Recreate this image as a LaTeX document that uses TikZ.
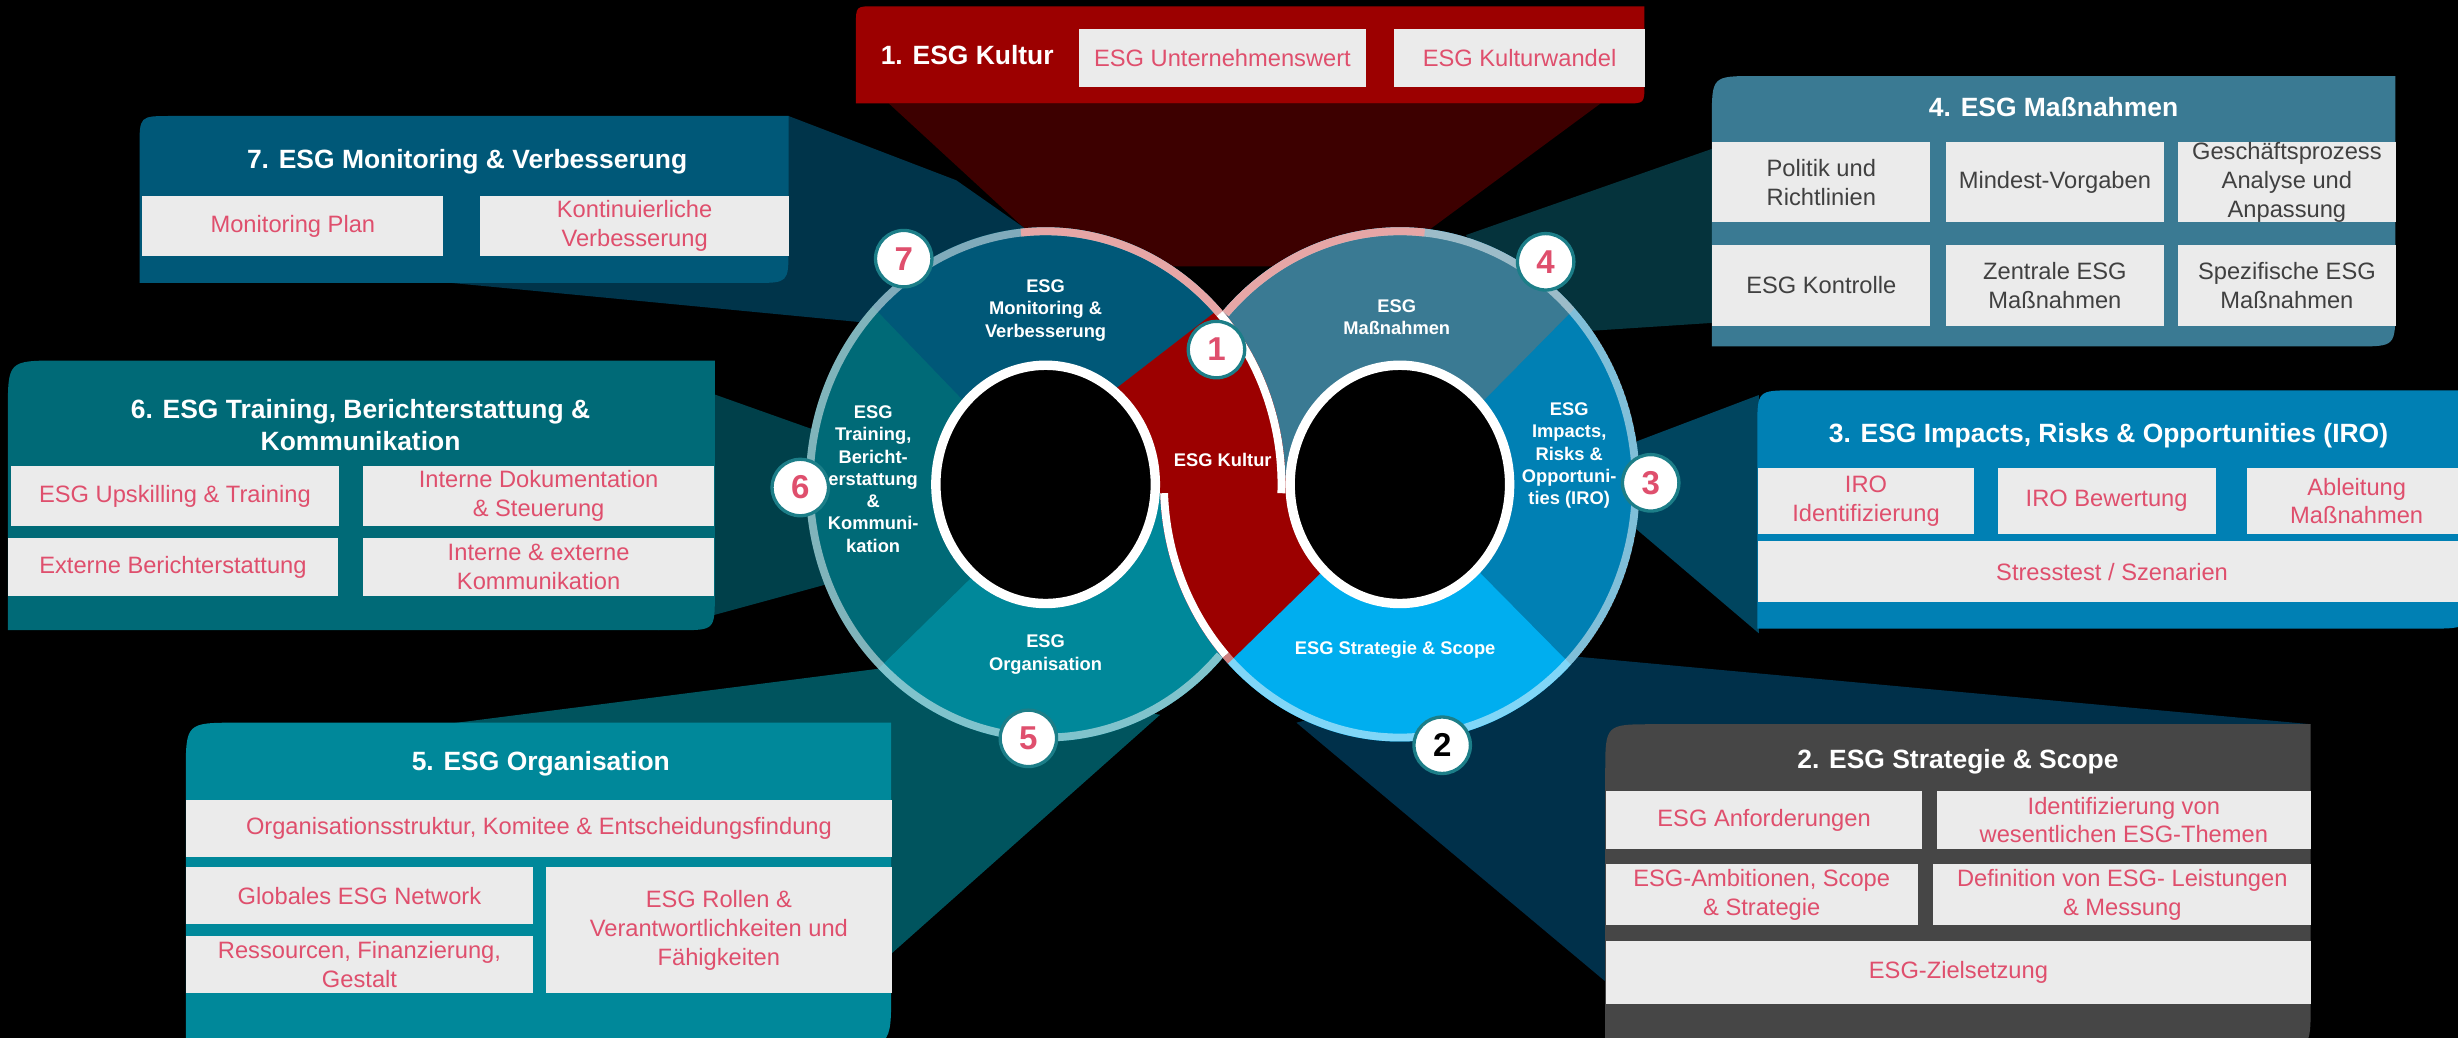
\documentclass[tikz,border=0pt]{standalone}
\usepackage{fontspec}
\setmainfont{Liberation Sans}
\usepackage{tikz}

\definecolor{kulturred}{HTML}{9C0000}
\definecolor{kulturshade}{HTML}{3D0000}
\definecolor{monitorblue}{HTML}{005878}
\definecolor{monitorshade}{HTML}{00344A}
\definecolor{trainteal}{HTML}{006A77}
\definecolor{trainshade}{HTML}{00404A}
\definecolor{orgteal}{HTML}{00889A}
\definecolor{orgshade}{HTML}{00545E}
\definecolor{massblue}{HTML}{3A7A93}
\definecolor{massshade}{HTML}{05333C}
\definecolor{iroblue}{HTML}{0080B4}
\definecolor{iroshade}{HTML}{00455F}
\definecolor{stratblue}{HTML}{00AEEF}
\definecolor{stratgray}{HTML}{464646}
\definecolor{stratshade}{HTML}{00304A}
\definecolor{boxgray}{HTML}{EBEBEB}
\definecolor{itemred}{HTML}{DF4F6D}
\definecolor{itemdark}{HTML}{404040}
\definecolor{numteal}{HTML}{1C7E88}
\definecolor{bandpink}{HTML}{E6A6A6}

\newcommand\paneltitlefont{\bfseries\fontsize{9.6}{11.7}\selectfont}
\newcommand\boxtextfont{\fontsize{8.6}{10.5}\selectfont}
\newcommand\ringlabelfont{\bfseries\fontsize{6.65}{8.1}\selectfont}
\newcommand\stepnumfont{\bfseries\fontsize{12}{12}\selectfont}

\tikzset{
	itembox/.style={fill=boxgray,text=itemred,font=\boxtextfont,align=center,inner sep=0pt,anchor=north west},
	darkbox/.style={itembox,text=itemdark},
	ptitle/.style={text=white,font=\paneltitlefont,align=center},
	seglabel/.style={text=white,font=\ringlabelfont,align=center},
	stepnum/.style={shape=circle,draw=numteal,line width=1.2pt,fill=white,minimum size=0.72cm,inner sep=0pt,font=\stepnumfont,text=itemred},
	hole/.style={draw=white,line width=0.12cm,fill=black}
}

\begin{document}
\begin{tikzpicture}[x=0.02cm,y=-0.02cm]
	\useasboundingbox (0,0) rectangle (1568,662);
	\fill[black] (0,0) rectangle (1568,662);
	\clip (0,0) rectangle (1568,662);
	\coordinate (L) at (667,309);
	\coordinate (R) at (893,309);

	% shadows from the panels to the rings
	\fill[kulturshade] (567,66) -- (1021,66) -- (880,170) -- (680,170) -- cycle;
	\fill[monitorshade] (503,74) -- (610,115) -- (660,150) -- (575,208) -- (283,180) -- cycle;
	\fill[trainshade] (440,246) -- (530,278) -- (530,372) -- (420,402) -- cycle;
	\fill[orgshade] (284,462) -- (565,426) -- (740,456) -- (569,608) -- cycle;
	\fill[massshade] (935,150) -- (1092,95) -- (1092,206) -- (1000,212) -- cycle;
	\fill[iroshade] (1035,285) -- (1122,252) -- (1122,404) -- (1035,330) -- cycle;
	\fill[stratshade] (996,418) -- (1474,462) -- (1024,626) -- (827,461) -- cycle;

	% panels
	\fill[kulturred] (546,66) -- (546,16) .. controls (546,4) .. (558,4) -- (1049,4) -- (1049,54) .. controls (1049,66) .. (1037,66) -- cycle;
	\fill[monitorblue] (89,180.5) -- (89,94) .. controls (89,74) .. (109,74) -- (503,74) -- (503,158.5) .. controls (503,180.5) .. (481,180.5) -- cycle;
	\fill[trainteal] (5,402) -- (5,263) .. controls (5,230) .. (38,230) -- (456,230) -- (456,379) .. controls (456,402) .. (433,402) -- cycle;
	\fill[orgteal] (118.5,668) -- (118.5,494) .. controls (118.5,461) .. (151.5,461) -- (568.5,461) -- (568.5,632) .. controls (568.5,668) .. (532.5,668) -- cycle;
	\fill[massblue] (1092,221) -- (1092,76.5) .. controls (1092,48.5) .. (1120,48.5) -- (1528,48.5) -- (1528,196) .. controls (1528,221) .. (1503,221) -- cycle;
	\fill[iroblue] (1121,401) -- (1121,273) .. controls (1121,249) .. (1145,249) -- (1575,249) -- (1575,376) .. controls (1575,401) .. (1550,401) -- cycle;
	\fill[stratgray] (1024,670) -- (1024,493) .. controls (1024,462) .. (1055,462) -- (1474,462) -- (1474,640) .. controls (1474,670) .. (1444,670) -- cycle;

	% 1. Kultur
	\node [ptitle] (T1) at (617,35) {1. ESG Kultur};
	\node [itembox,minimum width=3.66cm,minimum height=0.74cm] (K1) at (688,18) {ESG Unternehmenswert};
	\node [itembox,minimum width=3.2cm,minimum height=0.74cm] (K2) at (889,18) {ESG Kulturwandel};

	% 7. Monitoring
	\node [ptitle] (T7) at (298,103) {7. ESG Monitoring \& Verbesserung};
	\node [itembox,minimum width=3.84cm,minimum height=0.76cm] (W1) at (90.5,125) {Monitoring Plan};
	\node [itembox,minimum width=3.94cm,minimum height=0.76cm] (W2) at (306,125) {Kontinuierliche\\Verbesserung};

	% 6. Training
	\node [ptitle] (T6) at (230,271) {6. ESG Training, Berichterstattung \&\\Kommunikation};
	\node [itembox,minimum width=4.19cm,minimum height=0.77cm] (B1) at (6.5,297) {ESG Upskilling \& Training};
	\node [itembox,minimum width=4.47cm,minimum height=0.77cm] (B2) at (231.5,297) {Interne Dokumentation\\\& Steuerung};
	\node [itembox,minimum width=4.2cm,minimum height=0.74cm] (B3) at (5,343) {Externe Berichterstattung};
	\node [itembox,minimum width=4.47cm,minimum height=0.74cm] (B4) at (231.5,343) {Interne \& externe\\Kommunikation};

	% 5. Organisation
	\node [ptitle] (T5) at (345,487) {5. ESG Organisation};
	\node [itembox,minimum width=9cm,minimum height=0.73cm] (O1) at (118.5,510) {Organisationsstruktur, Komitee \& Entscheidungsfindung};
	\node [itembox,minimum width=4.42cm,minimum height=0.72cm] (O2) at (118.5,553) {Globales ESG Network};
	\node [itembox,minimum width=4.42cm,minimum height=0.72cm] (O3) at (118.5,597) {Ressourcen, Finanzierung,\\Gestalt};
	\node [itembox,minimum width=4.41cm,minimum height=1.6cm] (O4) at (348,553) {ESG Rollen \&\\Verantwortlichkeiten und\\Fähigkeiten};

	% 4. Massnahmen
	\node [ptitle] (T4) at (1310,68) {4. ESG Maßnahmen};
	\node [darkbox,minimum width=2.78cm,minimum height=1.02cm] (M1) at (1092,90.5) {Politik und\\Richtlinien};
	\node [darkbox,minimum width=2.78cm,minimum height=1.02cm] (M2) at (1241,90.5) {Mindest-Vorgaben};
	\node [darkbox,minimum width=2.78cm,minimum height=1.02cm] (M3) at (1389,90.5) {Geschäftsprozess\\Analyse und\\Anpassung};
	\node [darkbox,minimum width=2.78cm,minimum height=1.03cm] (M4) at (1092,156) {ESG Kontrolle};
	\node [darkbox,minimum width=2.78cm,minimum height=1.03cm] (M5) at (1241,156) {Zentrale ESG\\Maßnahmen};
	\node [darkbox,minimum width=2.78cm,minimum height=1.03cm] (M6) at (1389,156) {Spezifische ESG\\Maßnahmen};

	% 3. IRO
	\node [ptitle] (T3) at (1345,278) {3. ESG Impacts, Risks \& Opportunities (IRO)};
	\node [itembox,minimum width=2.76cm,minimum height=0.83cm] (I1) at (1121,298.5) {IRO\\Identifizierung};
	\node [itembox,minimum width=2.78cm,minimum height=0.83cm] (I2) at (1274,298.5) {IRO Bewertung};
	\node [itembox,minimum width=2.8cm,minimum height=0.83cm] (I3) at (1433,298.5) {Ableitung\\Maßnahmen};
	\node [itembox,minimum width=9.04cm,minimum height=0.77cm] (I4) at (1121,345) {Stresstest / Szenarien};

	% 2. Strategie
	\node [ptitle] (T2) at (1249,486) {2. ESG Strategie \& Scope};
	\node [itembox,minimum width=4.04cm,minimum height=0.73cm] (S1) at (1024,504.5) {ESG Anforderungen};
	\node [itembox,minimum width=4.78cm,minimum height=0.73cm] (S2) at (1235,504.5) {Identifizierung von\\wesentlichen ESG-Themen};
	\node [itembox,minimum width=3.98cm,minimum height=0.79cm] (S3) at (1024,550.5) {ESG-Ambitionen, Scope\\\& Strategie};
	\node [itembox,minimum width=4.82cm,minimum height=0.79cm] (S4) at (1233,550.5) {Definition von ESG- Leistungen\\\& Messung};
	\node [itembox,minimum width=9cm,minimum height=0.8cm] (S5) at (1024,600) {ESG-Zielsetzung};

	% left ring
	\begin{scope}
		\clip (L) ellipse [x radius=153, y radius=164];
		\fill[trainteal] (L) ellipse [x radius=153, y radius=164];
		\fill[monitorblue] (640,282) -- (465,100) -- (850,100) -- (838.6,150) -- (680,272.5) -- cycle;
		\fill[orgteal] (645.4,343.3) -- (488.5,497) -- (850,497) -- (850,309) -- (700,309) -- cycle;
	\end{scope}
	% right ring
	\begin{scope}
		\clip (R) ellipse [x radius=153, y radius=164];
		\fill[iroblue] (R) ellipse [x radius=153, y radius=164];
		\fill[massblue] (920.2,282.1) -- (1076.7,123.5) -- (1076.7,100) -- (700,100) -- (700,309) -- (880,309) -- cycle;
		\fill[stratblue] (919.9,340.9) -- (1074.9,497.9) -- (700,500) -- (700,309) -- (880,309) -- cycle;
	\end{scope}
	% kultur strand over the crossing
	\begin{scope}
		\clip (L) ellipse [x radius=153, y radius=164];
		\fill[kulturred] (838.6,150) -- (680,272.5) -- (680,313) -- (900,313) -- (900,150) -- cycle;
	\end{scope}
	\begin{scope}
		\clip (R) ellipse [x radius=153, y radius=164];
		\fill[kulturred] (700,305) -- (904.6,305) -- (760,446) -- (700,446) -- cycle;
	\end{scope}

	% outer bands
	\draw[white,opacity=0.5,line width=0.1cm] (778.1,417.9) arc [start angle=42.4, end angle=317.6, x radius=150.5, y radius=161.5];
	\draw[white,opacity=0.5,line width=0.1cm] (781.9,200.1) arc [start angle=222.4, end angle=497.6, x radius=150.5, y radius=161.5];
	\draw[bandpink,line width=0.1cm] (651.3,148.4) arc [start angle=264, end angle=317.6, x radius=150.5, y radius=161.5];
	\draw[bandpink,line width=0.1cm] (781.9,200.1) arc [start angle=222.4, end angle=276, x radius=150.5, y radius=161.5];
	\draw[white,line width=0.1cm] (778.1,200.1) arc [start angle=317.6, end angle=362, x radius=150.5, y radius=161.5];
	\draw[white,line width=0.1cm] (742.6,314.6) arc [start angle=178, end angle=137.6, x radius=150.5, y radius=161.5];

	% holes
	\draw[hole] (L) ellipse [x radius=70, y radius=76];
	\draw[hole] (R) ellipse [x radius=70, y radius=76];

	% segment labels
	\node [seglabel] (G7) at (667,198) {ESG\\Monitoring \&\\Verbesserung};
	\node [seglabel] (G6) at (557,305.6) {ESG\\Training,\\Bericht-\\erstattung\\\&\\Kommuni-\\kation};
	\node [seglabel] (G5) at (667,417.5) {ESG\\Organisation};
	\node [seglabel] (G1) at (780,293.4) {ESG Kultur};
	\node [seglabel] (G4) at (891,202.5) {ESG\\Maßnahmen};
	\node [seglabel] (G3) at (1001,290.6) {ESG\\Impacts,\\Risks \&\\Opportuni-\\ties (IRO)};
	\node [seglabel] (G2) at (890,414.7) {ESG Strategie \& Scope};

	% step numbers
	\node [stepnum] (N1) at (776,223) {1};
	\node [stepnum,text=black] (N2) at (920,475.4) {2};
	\node [stepnum] (N3) at (1053,308) {3};
	\node [stepnum] (N4) at (986,167) {4};
	\node [stepnum] (N5) at (656,471) {5};
	\node [stepnum] (N6) at (510.5,311) {6};
	\node [stepnum] (N7) at (576.5,165) {7};
\end{tikzpicture}
\end{document}
